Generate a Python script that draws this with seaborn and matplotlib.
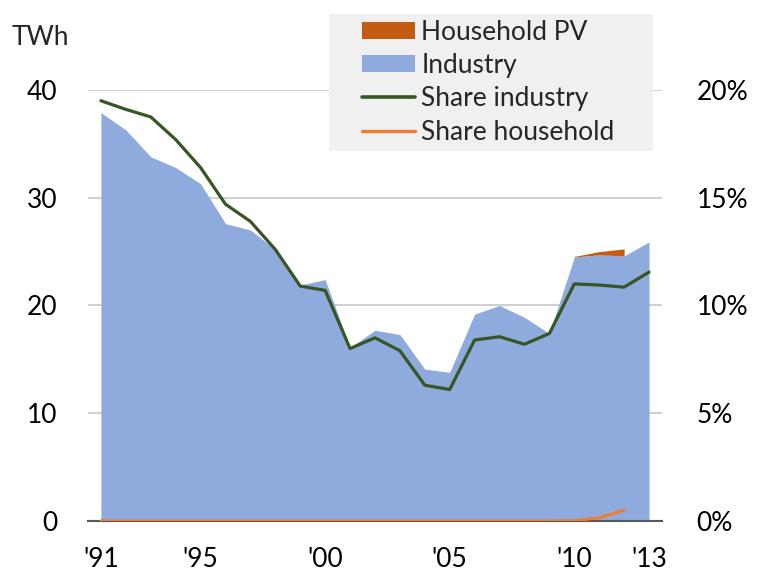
import numpy as np
import pandas as pd
import matplotlib
matplotlib.use("Agg")
import matplotlib.pyplot as plt
import seaborn as sns
from matplotlib.patches import Patch, Rectangle
from matplotlib.lines import Line2D
from matplotlib.ticker import FuncFormatter

years = list(range(1991, 2014))
industry = [37.9, 36.3, 33.8, 32.8, 31.3, 27.6, 27.0, 25.2, 21.9, 22.4, 16.1, 17.7,
            17.3, 14.1, 13.8, 19.2, 20.0, 18.9, 17.4, 24.5, 24.7, 24.6, 25.9]
pv_years = [2010, 2011, 2012]
household_pv = [0.05, 0.3, 0.65]
share_industry = [19.5, 19.1, 18.75, 17.7, 16.4, 14.7, 13.9, 12.6, 10.9, 10.7, 8.0, 8.5,
                  7.9, 6.3, 6.1, 8.4, 8.55, 8.2, 8.7, 11.0, 10.95, 10.85, 11.55]
share_household = [0, 0, 0, 0, 0, 0, 0, 0, 0, 0, 0, 0,
                    0, 0, 0, 0, 0, 0, 0, 0.02, 0.15, 0.5]
tick_years = [1991, 1995, 2000, 2005, 2010, 2013]
tick_labels = ["'91", "'95", "'00", "'05", "'10", "'13"]

sns.set_theme(style="white")
plt.rcParams['font.family'] = ['Lato', 'DejaVu Sans']

c_pv = "#c55a11"
c_ind = "#8faadc"
c_green = "#375623"
c_orange = "#ed7d31"

fig = plt.figure(figsize=(7.57, 5.79), dpi=100)
ax = fig.add_axes([0.1162, 0.1002, 0.7583, 0.7444])

ax.stackplot(years, industry, colors=[c_ind], linewidth=0, zorder=2)
ind_map = dict(zip(years, industry))
base = np.array([ind_map[y] for y in pv_years])
ax.fill_between(pv_years, base, base + np.array(household_pv), color=c_pv, linewidth=0, zorder=2)
ax.set_xlim(1990.48, 2013.52)
ax.set_ylim(0, 40)
ax.set_yticks([0, 10, 20, 30, 40])
ax.yaxis.grid(True, color="#d0d0d0", linewidth=1.5, zorder=0)
ax.set_axisbelow(True)
ax.xaxis.grid(False)
for s in ["top", "right", "left"]:
    ax.spines[s].set_visible(False)
ax.spines["bottom"].set_color("#595959")
ax.spines["bottom"].set_linewidth(1.5)
ax.set_xticks(tick_years)
ax.set_xticklabels(tick_labels)
ax.tick_params(axis="x", length=0, pad=19, labelsize=19, colors="#000000")
ax.tick_params(axis="y", length=0, pad=22, labelsize=19, colors="#000000")
ax.set_xlabel("")
ax.set_ylabel("")

ax2 = ax.twinx()
df1 = pd.DataFrame({"year": years, "share": np.array(share_industry) / 100})
df2 = pd.DataFrame({"year": years[:len(share_household)], "share": np.array(share_household) / 100})
sns.lineplot(data=df2, x="year", y="share", ax=ax2, color=c_orange, linewidth=2.2)
sns.lineplot(data=df1, x="year", y="share", ax=ax2, color=c_green, linewidth=2.3)
ax2.set_ylim(0, 0.20)
ax2.set_xlim(1990.48, 2013.52)
ax2.set_yticks([0, 0.05, 0.10, 0.15, 0.20])
ax2.yaxis.set_major_formatter(FuncFormatter(lambda v, p: f"{v*100:.0f}%"))
ax2.tick_params(axis="y", length=0, pad=25, labelsize=19, colors="#000000")
ax2.set_xlabel("")
ax2.set_ylabel("")
ax2.grid(False)
for s in ax2.spines.values():
    s.set_visible(False)

fig.text(0.016, 0.935, "TWh", fontsize=19, ha="left", va="center")

# legend background box
fig.patches.append(Rectangle((329 / 757, 1 - 151 / 579), 324 / 757, 137 / 579,
                             transform=fig.transFigure, facecolor="#f0f0f0",
                             edgecolor="none", zorder=5))

handles = [Patch(facecolor=c_pv, edgecolor="none"),
           Patch(facecolor=c_ind, edgecolor="none"),
           Line2D([0], [0], color=c_green, linewidth=2.6),
           Line2D([0], [0], color=c_orange, linewidth=2.4)]
labels = ["Household PV", "Industry", "Share industry", "Share household"]
leg = fig.legend(handles, labels, loc="upper left", bbox_to_anchor=(358 / 757, 1 - 16 / 579),
                 frameon=False, fontsize=19, handlelength=2.0, handleheight=0.6,
                 handletextpad=0.25, labelspacing=0.31, borderpad=0.15, borderaxespad=0)
leg.set_zorder(6)

fig.savefig("out.png", dpi=100)
